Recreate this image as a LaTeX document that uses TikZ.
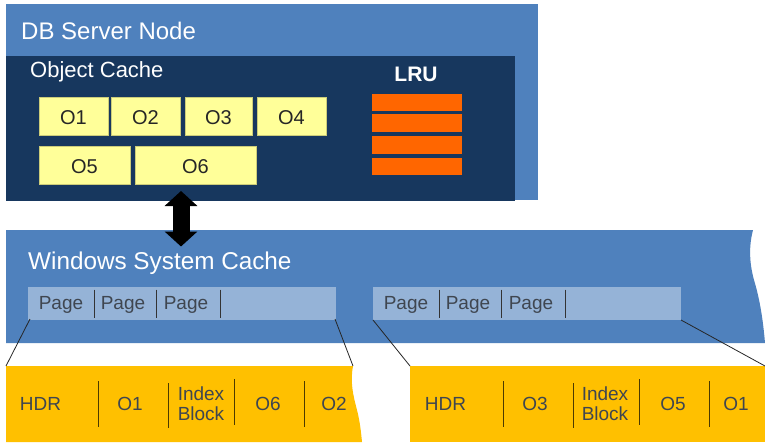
\documentclass[tikz,border=0pt]{standalone}
\usepackage{fontspec}
\setmainfont{Liberation Sans}
\usetikzlibrary{arrows.meta,calc}
\definecolor{blueA}{HTML}{4F81BD}
\definecolor{navyA}{HTML}{17375E}
\definecolor{yellowA}{HTML}{FFFF99}
\definecolor{orangeA}{HTML}{FF6600}
\definecolor{goldA}{HTML}{FFC000}
\definecolor{barA}{HTML}{95B3D7}
\definecolor{inkA}{HTML}{3F4650}
\tikzset{
  panel/.style={fill=blueA,draw=none,inner sep=0pt,outer sep=0pt},
  darkpanel/.style={fill=navyA,draw=none,inner sep=0pt,outer sep=0pt},
  objbox/.style={fill=yellowA,draw=yellowA!80!black,line width=.3pt,inner sep=0pt,outer sep=0pt,minimum height=38pt,text=black!85,text height=16.4pt,font=\fontsize{20}{22}\selectfont},
  lrubox/.style={fill=orangeA,draw=none,inner sep=0pt,outer sep=0pt,minimum width=90pt},
  pagebar/.style={fill=barA,draw=none,inner sep=0pt,outer sep=0pt,minimum width=308pt,minimum height=33pt},
  title/.style={text=white,inner sep=0pt,anchor=base west},
  pagetxt/.style={text=inkA,inner sep=0pt,font=\fontsize{19}{21}\selectfont},
  blocktxt/.style={text=inkA,inner sep=0pt,font=\fontsize{19}{20}\selectfont,align=center},
  sep/.style={draw=black!80,line width=1pt},
  link/.style={draw=black!85,line width=.8pt},
  goldshape/.style={fill=goldA,draw=none},
}
\begin{document}
\begin{tikzpicture}[x=1pt,y=-1pt]
\useasboundingbox (0,0) rectangle (765,442);
\fill[white] (0,0) rectangle (765,442);
% top panel
\node[panel,minimum width=532pt,minimum height=196pt] (server) at (272,102) {};
\node[darkpanel,minimum width=509pt,minimum height=145pt] (cache) at (260.5,128.5) {};
\node[title,font=\fontsize{24}{26}\selectfont] (servert) at (21,39.5) {DB Server Node};
\node[title,font=\fontsize{22}{24}\selectfont] (cachet) at (30,77.5) {Object Cache};
\node[text=white,inner sep=0pt,font=\bfseries\fontsize{21}{23}\selectfont] (lrut) at (416,74.5) {LRU};
\node[objbox,minimum width=69pt] (o1) at (73.5,116) {O1};
\node[objbox,minimum width=69pt] (o2) at (145.5,116) {O2};
\node[objbox,minimum width=67pt] (o3) at (218.5,116) {O3};
\node[objbox,minimum width=69pt] (o4) at (291.5,116) {O4};
\node[objbox,minimum width=91pt] (o5) at (84.5,165) {O5};
\node[objbox,minimum width=121pt] (o6) at (195.5,165) {O6};
\node[lrubox,minimum height=17pt] (l1) at (417,102.5) {};
\node[lrubox,minimum height=18pt] (l2) at (417,123) {};
\node[lrubox,minimum height=18pt] (l3) at (417,145) {};
\node[lrubox,minimum height=17pt] (l4) at (417,166.5) {};
% lower panel
\path[panel] (6,230) -- (753,230) .. controls (749,245) and (749,262) .. (754,280) .. controls (760,300) and (763,320) .. (765,343) -- (6,343) -- cycle;
\node[title,font=\fontsize{24.3}{26}\selectfont] (wint) at (28,269) {Windows System Cache};
\node[pagebar] (bar1) at (182,303.5) {};
\node[pagebar] (bar2) at (527,303.5) {};
\foreach \n/\x/\s in {p1/61/94,p2/123/156,p3/186/220,q1/406/439,q2/468/501,q3/531/565}{
  \node[pagetxt] (\n) at (\x,305) {Page};
  \coordinate (\n a) at (\s,289.5);
  \coordinate (\n b) at (\s,317.5);
  \draw[sep] (\n a) -- (\n b);
}
% gold blocks
\coordinate (g1a) at (6,366);
\coordinate (g1b) at (353,366);
\coordinate (g2a) at (410,366);
\coordinate (g2b) at (765,366);
\path[goldshape] (g1a) -- (g1b) .. controls (350,382) and (353,395) .. (357,410) .. controls (360,422) and (361,432) .. (362,442) -- (6,442) -- cycle;
\path[goldshape] (g2a) -- (g2b) -- (765,442) -- (410,442) -- cycle;
\foreach \n/\x/\ya/\yb in {s1/98.5/381/427,s2/168/383/428,s3/234/379/425,s4/304.5/381/427,t1/503/381/427,t2/573/383/428,t3/639.5/379/425,t4/709.5/381/427}{
  \coordinate (\n a) at (\x,\ya);
  \coordinate (\n b) at (\x,\yb);
  \draw[draw=black!70!goldA,line width=1pt] (\n a) -- (\n b);
}
\node[blocktxt] (h1) at (40.5,403.5) {HDR};
\node[blocktxt] (b1) at (130,403.5) {O1};
\node[blocktxt] (i1) at (201,404) {Index\\Block};
\node[blocktxt] (b2) at (268,403.5) {O6};
\node[blocktxt] (b3) at (334,403.5) {O2};
\node[blocktxt] (h2) at (445.5,403.5) {HDR};
\node[blocktxt] (c1) at (535,403.5) {O3};
\node[blocktxt] (i2) at (605,404) {Index\\Block};
\node[blocktxt] (c2) at (673,403.5) {O5};
\node[blocktxt] (c3) at (736,403.5) {O1};
% connectors
\draw[link] ($(bar1.south west)+(2,-1)$) -- (g1a);
\draw[link] ($(bar1.south east)+(-1,-1)$) -- (g1b);
\draw[link] (bar2.south west) -- (g2a);
\draw[link] (bar2.south east) -- (g2b);
% double arrow
\coordinate (dtop) at (181,191);
\coordinate (dbot) at (181,246.5);
\draw[line width=17pt,{Triangle[length=15pt,width=32pt]}-{Triangle[length=15pt,width=32pt]},black] (dtop) -- (dbot);
\end{tikzpicture}
\end{document}
